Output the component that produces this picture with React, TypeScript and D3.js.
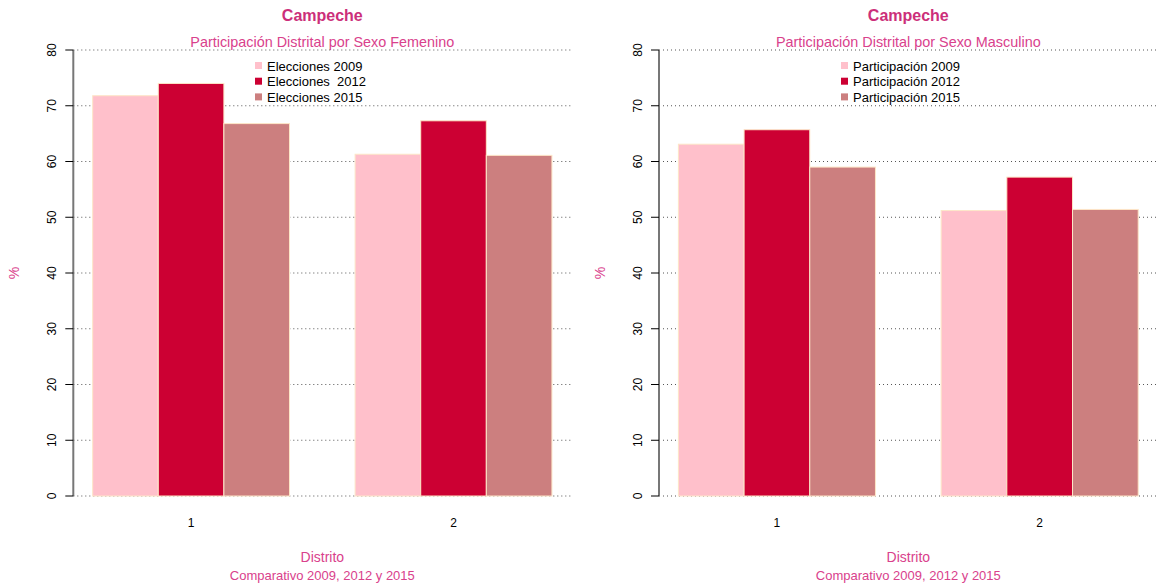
import React from "react";
import { scaleLinear } from "d3";

const distritos = ["1", "2"];
const yTicks = [0, 10, 20, 30, 40, 50, 60, 70, 80];

const femLabels = ["Elecciones 2009", "Elecciones  2012", "Elecciones 2015"];
const fem2009 = [71.8, 61.3];
const fem2012 = [74.0, 67.3];
const fem2015 = [66.8, 61.1];

const mascLabels = ["Participación 2009", "Participación 2012", "Participación 2015"];
const masc2009 = [63.1, 51.2];
const masc2012 = [65.7, 57.2];
const masc2015 = [59.0, 51.4];

const colors = ["#ffc0cb", "#cc0033", "#cc7f7f"];
const border = "#fde6c8";
const titleColor = "#cc2f7a";
const subColor = "#d9418c";
const font = "'Liberation Sans', Arial, Helvetica, sans-serif";

const Panel: React.FC<{
    left: number;
    right: number;
    subtitle: string;
    labels: string[];
    series: number[][];
    legendX: number;
}> = ({ left, right, subtitle, labels, series, legendX }) => {
    // R barplot style: bar width 1, group gap 1, xlim extended 4%
    const nBars = distritos.length * (series.length + 1);
    const x = scaleLinear().domain([0.72, nBars + 0.28]).range([left, right]);
    const y = scaleLinear().domain([0, 80]).range([496, 50]);
    const cx = (left + right) / 2;
    const axisX = left - 1;

    return (
        <g fontFamily={font}>
            <text x={cx} y={21} textAnchor="middle" fontSize={16} fontWeight="bold" fill={titleColor}>
                Campeche
            </text>
            <text x={cx} y={47} textAnchor="middle" fontSize={14.4} fill={subColor}>
                {subtitle}
            </text>

            {yTicks.map(t => (
                <line
                    key={"g" + t}
                    x1={axisX}
                    x2={right + 2}
                    y1={y(t)}
                    y2={y(t)}
                    stroke="#555"
                    strokeWidth={1}
                    strokeDasharray="1,3"
                />
            ))}

            {distritos.map((d, gi) =>
                series.map((s, si) => {
                    const start = 1 + gi * (series.length + 1) + si;
                    return (
                        <rect
                            key={d + "-" + si}
                            x={x(start)}
                            y={y(s[gi])}
                            width={x(start + 1) - x(start)}
                            height={y(0) - y(s[gi])}
                            fill={colors[si]}
                            stroke={border}
                            strokeWidth={1}
                        />
                    );
                }),
            )}

            <line x1={axisX} x2={axisX} y1={y(0)} y2={y(80)} stroke="#777" strokeWidth={2} />
            {yTicks.map(t => (
                <g key={"t" + t}>
                    <line x1={axisX - 8} x2={axisX} y1={y(t)} y2={y(t)} stroke="#000" strokeWidth={1} />
                    <text
                        transform={`translate(${axisX - 17},${y(t)}) rotate(-90)`}
                        textAnchor="middle"
                        fontSize={12}
                        fill="#000"
                    >
                        {t}
                    </text>
                </g>
            ))}

            <text
                transform={`translate(${left - 55},${273}) rotate(-90)`}
                textAnchor="middle"
                fontSize={14}
                fill={subColor}
            >
                %
            </text>

            {distritos.map((d, gi) => {
                const mid = 1 + gi * (series.length + 1) + series.length / 2;
                return (
                    <text key={"x" + d} x={x(mid)} y={527} textAnchor="middle" fontSize={12} fill="#000">
                        {d}
                    </text>
                );
            })}

            <text x={cx} y={562} textAnchor="middle" fontSize={14} fill={subColor}>
                Distrito
            </text>
            <text x={cx} y={580} textAnchor="middle" fontSize={13} fill={subColor}>
                Comparativo 2009, 2012 y 2015
            </text>

            {labels.map((l, i) => (
                <g key={l}>
                    <rect x={legendX} y={62 + i * 15.7} width={7} height={7} fill={colors[i]} />
                    <text
                        x={legendX + 12}
                        y={70.5 + i * 15.7}
                        fontSize={13}
                        fill="#000"
                        style={{ whiteSpace: "pre" }}
                    >
                        {l}
                    </text>
                </g>
            ))}
        </g>
    );
};

export default function App() {
    return (
        <svg
            width={1157}
            height={584}
            style={{ position: "absolute", left: 0, top: 0, background: "#fff" }}
        >
            <rect width={1157} height={584} fill="#fff" />
            <Panel
                left={74.3}
                right={570.3}
                subtitle="Participación Distrital por Sexo Femenino"
                labels={femLabels}
                series={[fem2009, fem2012, fem2015]}
                legendX={255}
            />
            <Panel
                left={660}
                right={1156.6}
                subtitle="Participación Distrital por Sexo Masculino"
                labels={mascLabels}
                series={[masc2009, masc2012, masc2015]}
                legendX={841}
            />
        </svg>
    );
}
